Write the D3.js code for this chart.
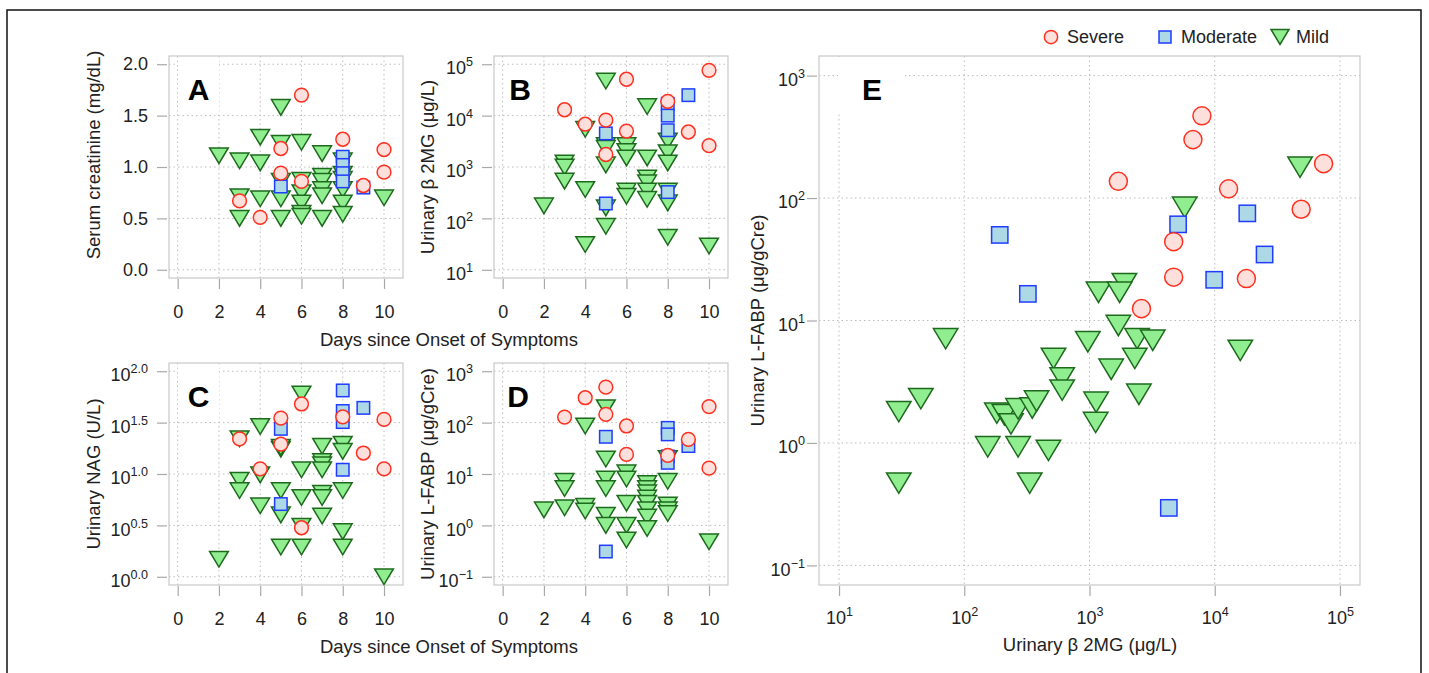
<!DOCTYPE html>
<html>
<head>
<meta charset="utf-8">
<title>Days since onset vs urinary markers</title>
<script src="https://cdn.jsdelivr.net/npm/d3@7"></script>
<style>
  body { margin: 0; background: #fff; }
  svg text { font-family: "Liberation Sans", Arial, sans-serif; fill: #222; }
</style>
</head>
<body>
<svg id="chart" width="1429" height="673"></svg>
<script>
// ---- data: [day, value] or [b2mg, lfabp] ----
const dayTicks = [0, 2, 4, 6, 8, 10];
const severityNames = ["Severe", "Moderate", "Mild"];

const creatSevere = [[6,1.70],[8,1.27],[5,1.18],[10,1.17],[5,0.94],[6,0.86],[10,0.95],[9,0.82],[3,0.67],[4,0.51]];
const creatModerate = [[5,0.81],[8,1.10],[8,1.02],[8,0.94],[8,0.86],[9,0.80]];
const creatMild = [[5,1.58],[4,1.29],[5,1.23],[6,1.24],[2,1.11],[3,1.06],[4,1.04],[7,1.13],[8,1.06],[5,0.86],[6,0.87],
  [7,0.91],[7,0.86],[8,0.93],[8,0.88],[3,0.71],[4,0.69],[5,0.69],[6,0.75],[6,0.65],[7,0.78],[7,0.72],[8,0.78],
  [8,0.65],[10,0.70],[3,0.50],[5,0.50],[6,0.55],[6,0.52],[7,0.50],[8,0.54]];

const b2Severe = [[3,13000],[4,6800],[5,8200],[5,1750],[6,51000],[6,5000],[8,19000],[9,4800],[10,76000],[10,2600]];
const b2Moderate = [[5,4500],[5,195],[8,17000],[8,10000],[8,5200],[8,325],[9,25000]];
const b2Mild = [[5,47000],[7,15000],[4,5400],[5,2600],[5,2300],[5,1100],[6,2600],[6,2000],[6,1500],[7,1500],
  [8,3200],[8,1900],[8,1200],[3,1200],[3,1000],[3,530],[4,365],[5,160],[5,70],[6,340],[6,270],[7,610],[7,490],
  [7,340],[7,235],[8,340],[8,200],[2,175],[4,31],[8,43],[10,29]];

const nagSevere = [[6,48],[5,35],[8,36],[10,34],[3,22],[5,19.5],[9,16],[4,11.2],[10,11.2],[6,3.0]];
const nagModerate = [[8,65],[9,44],[8,41],[8,32],[5,27.5],[8,11],[5,5.1]];
const nagMild = [[6,60],[4,29],[3,22],[5,17.4],[5,18.2],[7,18.6],[8,19.5],[8,16.6],[7,13.2],[7,12.3],[7,11],[6,11],
  [4,9.8],[3,8.7],[3,6.9],[5,6.9],[7,6.5],[7,5.9],[8,6.9],[6,5.9],[4,4.9],[5,4.0],[7,3.9],[6,3.1],[8,2.75],
  [8,1.95],[5,1.95],[6,1.95],[2,1.48],[10,1.0]];

const lfSevere = [[5,490],[4,305],[3,128],[5,145],[6,86],[6,24],[8,23],[9,47],[10,205],[10,13]];
const lfModerate = [[5,53],[8,79],[8,59],[8,22],[8,16.5],[9,35],[5,0.31]];
const lfMild = [[5,195],[4,86],[5,19.6],[8,20],[6,10.5],[6,8],[5,8],[5,5.2],[8,7.2],[3,7.2],[3,5.2],[7,6.5],
  [7,5.2],[7,4.3],[7,3.4],[7,2.7],[6,2.7],[3,2.2],[4,2.35],[4,1.9],[2,2.0],[8,2.5],[8,2.0],[8,1.7],[7,2.0],
  [7,1.45],[7,0.87],[5,1.58],[5,1.0],[6,1.0],[6,0.52],[10,0.48]];

const eSevere = [[7900,469],[6700,300],[1700,137],[74000,191],[12900,119],[49000,81],[4700,44],[4700,22.6],
  [17900,22],[2600,12.5]];
const eModerate = [[192,50],[322,16.5],[5100,61],[18200,75],[25000,34.6],[9900,21.5],[4300,0.295]];
const eMild = [[71,7.1],[45,2.3],[30,1.8],[30,0.47],[182,1.75],[209,1.70],[236,1.43],[269,1.9],[349,1.93],
  [378,2.2],[516,4.9],[605,3.4],[605,2.7],[154,0.93],[269,0.93],[470,0.87],[333,0.47],[1700,9.1],[2400,7.1],
  [3200,6.9],[970,6.7],[2300,4.9],[1490,4.0],[2480,2.5],[1130,2.15],[1120,1.47],[16000,5.7],[48000,179],
  [5760,84],[1900,20],[1180,17],[1740,17]];

// ---- styles ----
const style = {
  Severe:   { fill: "#fde0dc", stroke: "#ff3020" },
  Moderate: { fill: "#add8e6", stroke: "#1f3cff" },
  Mild:     { fill: "#90ee90", stroke: "#1d6a1d" }
};
const gridCol = "#bdbdbd", boxCol = "#c8c8c8", tickCol = "#a8a8a8";

const svg = d3.select("#chart");

// frame around the figure
svg.append("rect").attr("x", 7).attr("y", 10).attr("width", 1414).attr("height", 700)
  .attr("fill", "none").attr("stroke", "#111").attr("stroke-width", 1.5);

function marker(g, kind, cx, cy, s) {
  const st = style[kind];
  let m;
  if (kind === "Severe") {
    m = g.append("circle").attr("cx", cx).attr("cy", cy).attr("r", s * 0.53);
  } else if (kind === "Moderate") {
    const h = s * 0.48;
    m = g.append("rect").attr("x", cx - h).attr("y", cy - h).attr("width", 2 * h).attr("height", 2 * h);
  } else {
    const w = s * 0.72, h = s * 0.6;
    m = g.append("path").attr("d", `M${cx - w},${cy - h}L${cx + w},${cy - h}L${cx},${cy + h}Z`);
  }
  m.attr("fill", st.fill).attr("stroke", st.stroke).attr("stroke-width", 1.5).attr("stroke-linejoin", "miter");
}

const logFmt = d => {
  const e = Math.log10(d);
  return ["10", (e < 0 ? "\u2212" : "") + Math.abs(e).toString()];
};
const halfFmt = d => ["10", Math.log10(d).toFixed(1)];

const decades = (a, b) => d3.range(a, b + 1).map(e => Math.pow(10, e));

const panels = [
  { letter: "A", box: [169, 56, 403, 278], xDomain: [-0.42, 10.92], yDomain: [-0.08, 2.08], yLog: false,
    yTicks: [0, 0.5, 1, 1.5, 2], yFmt: d3.format(".1f"), yTitle: "Serum creatinine (mg/dL)", yTitleX: 93, yTitleY: 155,
    series: [creatMild, creatModerate, creatSevere], letterX: 198.5, mask: [178, 57, 41, 55] },
  { letter: "B", box: [494, 56, 728, 278], xDomain: [-0.42, 10.92], yDomain: [Math.pow(10, 0.84), Math.pow(10, 5.16)],
    yLog: true, yTicks: decades(1, 5), yFmt: logFmt, yTitle: "Urinary \u03b2 2MG (\u03bcg/L)", yTitleX: 427,
    series: [b2Mild, b2Moderate, b2Severe], letterX: 520 },
  { letter: "C", box: [169, 363, 403, 585], xDomain: [-0.42, 10.92], yDomain: [Math.pow(10, -0.08), Math.pow(10, 2.08)],
    yLog: true, yTicks: [0, 0.5, 1, 1.5, 2].map(e => Math.pow(10, e)), yFmt: halfFmt, yTitle: "Urinary NAG (U/L)",
    yTitleX: 93, series: [nagMild, nagModerate, nagSevere], letterX: 198.5, mask: [178, 364, 41, 55] },
  { letter: "D", box: [494, 363, 728, 585], xDomain: [-0.42, 10.92], yDomain: [Math.pow(10, -1.16), Math.pow(10, 3.16)],
    yLog: true, yTicks: decades(-1, 3), yFmt: logFmt, yTitle: "Urinary L-FABP (\u03bcg/gCre)", yTitleX: 427,
    series: [lfMild, lfModerate, lfSevere], letterX: 518 }
];

function drawPanel(p, opt) {
  const [x0, y0, x1, y1] = p.box;
  const g = svg.append("g");
  const x = (p.xLog ? d3.scaleLog() : d3.scaleLinear()).domain(p.xDomain).range([x0, x1]);
  const y = (p.yLog ? d3.scaleLog() : d3.scaleLinear()).domain(p.yDomain).range([y1, y0]);
  const xTicks = p.xTicks || dayTicks;

  // dotted grid
  g.selectAll(".gx").data(xTicks).join("line")
    .attr("x1", d => x(d)).attr("x2", d => x(d)).attr("y1", y0).attr("y2", y1);
  g.selectAll(".gy").data(p.yTicks).join("line")
    .attr("x1", x0).attr("x2", x1).attr("y1", d => y(d)).attr("y2", d => y(d));
  g.selectAll("line").attr("stroke", gridCol).attr("stroke-width", 1).attr("stroke-dasharray", "1.5,3");

  if (p.mask) g.append("rect").attr("x", p.mask[0]).attr("y", p.mask[1])
    .attr("width", p.mask[2]).attr("height", p.mask[3]).attr("fill", "#fff");

  g.append("rect").attr("x", x0).attr("y", y0).attr("width", x1 - x0).attr("height", y1 - y0)
    .attr("fill", "none").attr("stroke", boxCol).attr("stroke-width", 1.2);

  // axes
  const fs = opt.fs;
  const ax = g.append("g").attr("transform", `translate(0,${y1 + 1})`)
    .call(d3.axisBottom(x).tickValues(xTicks).tickSize(10).tickPadding(opt.xPad)
      .tickFormat(p.xFmt ? () => "" : d3.format("d")));
  const ay = g.append("g").attr("transform", `translate(${x0 - 2},0)`)
    .call(d3.axisLeft(y).tickValues(p.yTicks).tickSize(10).tickPadding(opt.yPad)
      .tickFormat(p.yLog ? () => "" : p.yFmt));
  [ax, ay].forEach(a => {
    a.attr("font-family", null).attr("font-size", fs);
    a.select(".domain").remove();
    a.selectAll(".tick line").attr("stroke", tickCol).attr("stroke-width", 1.2);
    a.selectAll(".tick text").attr("fill", "#222");
  });
  const supText = (sel, fmt, down) => sel.selectAll(".tick text").each(function (d) {
    const [b, s] = fmt(d);
    const t = d3.select(this).text(null);
    if (down) t.attr("y", down);
    t.append("tspan").text(b);
    t.append("tspan").attr("dy", -8).attr("font-size", fs * 0.7).text(s);
  });
  if (p.yLog) supText(ay, p.yFmt, 4);
  if (p.xFmt) supText(ax, p.xFmt, null);

  // points: mild, then moderate, then severe on top
  const kinds = ["Mild", "Moderate", "Severe"];
  p.series.forEach((arr, i) => {
    const mg = g.append("g");
    arr.forEach(d => marker(mg, kinds[i], x(d[0]), y(d[1]), opt.ms));
  });

  // panel letter
  g.append("text").attr("x", p.letterX).attr("y", y0 + 44).attr("text-anchor", "middle")
    .attr("font-size", 30).attr("font-weight", "bold").style("fill", "#000").text(p.letter);

  // y title
  g.append("text")
    .attr("transform", `translate(${p.yTitleX},${p.yTitleY || (y0 + y1) / 2}) rotate(-90)`)
    .attr("text-anchor", "middle").attr("dominant-baseline", "central")
    .attr("font-size", opt.tfs).text(p.yTitle);
}

panels.forEach(p => drawPanel(p, { fs: 18, tfs: 18.5, xPad: 16.5, yPad: 9, ms: 13 }));

// shared x titles for the day panels
[278, 585].forEach(yb => {
  svg.append("text").attr("x", 449).attr("y", yb + 68).attr("text-anchor", "middle")
    .attr("font-size", 18.5).text("Days since Onset of Symptoms");
});

// panel E
const panelE = { letter: "E", box: [819, 56, 1360, 585], xLog: true, xDomain: [Math.pow(10, 0.84), Math.pow(10, 5.16)],
  xTicks: decades(1, 5), xFmt: logFmt, yLog: true, yDomain: [Math.pow(10, -1.16), Math.pow(10, 3.16)],
  yTicks: decades(-1, 3), yFmt: logFmt, yTitle: "Urinary L-FABP (\u03bcg/gCre)", yTitleX: 757,
  series: [eMild, eModerate, eSevere], letterX: 872, mask: [838, 57, 67, 57] };
drawPanel(panelE, { fs: 18, tfs: 18.5, xPad: 15, yPad: 2, ms: 17 });
svg.append("text").attr("x", 1090).attr("y", 651).attr("text-anchor", "middle")
  .attr("font-size", 18.5).text("Urinary \u03b2 2MG (\u03bcg/L)");

// legend
const legX = [1051, 1165, 1280];
const leg = svg.append("g");
severityNames.forEach((k, i) => {
  marker(leg, k, legX[i], 37, 12.5);
  leg.append("text").attr("x", legX[i] + 16).attr("y", 37).attr("dominant-baseline", "central")
    .attr("font-size", 18).text(k);
});
</script>
</body>
</html>
